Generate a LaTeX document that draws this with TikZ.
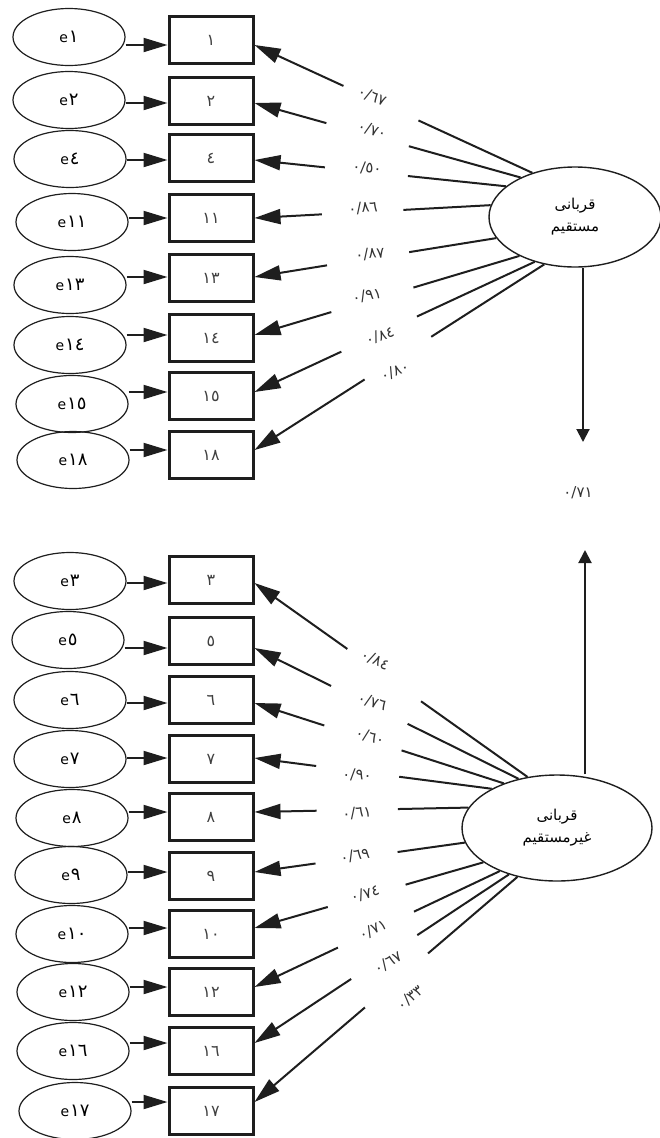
\documentclass[tikz,border=0pt]{standalone}
\usepackage{fontspec}
\setmainfont{DejaVu Sans}
\newfontfamily\ar[Script=Arabic]{DejaVu Sans}
\TeXXeTstate=1
\usetikzlibrary{arrows.meta,calc,shapes.geometric}
\definecolor{ink}{HTML}{1E1E1E}
\tikzset{
  errnode/.style={ellipse, draw=ink, line width=1.2pt, minimum width=112pt, minimum height=57pt, inner sep=0pt, font=\ar\fontsize{14}{16}\selectfont},
  obsnode/.style={rectangle, draw=ink, line width=3pt, minimum width=84pt, minimum height=47pt, inner sep=0pt, font=\ar\fontsize{16}{18}\selectfont, text=black!75},
  latnode/.style={ellipse, draw=ink, line width=1.4pt, inner sep=0pt, font=\ar\fontsize{15}{22}\selectfont, align=center},
  earr/.style={draw=ink, line width=2pt, -{Triangle[length=24pt,width=14pt]}},
  larr/.style={draw=ink, line width=2pt, -{Triangle[length=26pt,width=15pt]}},
  lseg/.style={draw=ink, line width=2pt},
  lbl/.style={font=\ar\fontsize{15}{17}\selectfont, text=black!80, inner sep=1pt},
  varr/.style={draw=ink, line width=2pt, -{Triangle[length=13pt,width=13pt]}},
}
\newcommand{\elab}[1]{e\kern1pt{\fontsize{18}{18}\selectfont #1}}
\begin{document}
\begin{tikzpicture}[x=1pt,y=-1pt]
\useasboundingbox (0,0) rectangle (660,1138);
% latent variables
\node[latnode, minimum width=172pt, minimum height=100pt] (L1) at (575,217) {\beginR قربانی\endR\\\beginR مستقیم\endR};
\node[latnode, minimum width=190pt, minimum height=106pt] (L2) at (557,828) {\beginR قربانی\endR\\\beginR غیرمستقیم\endR};
% top group
\foreach \i/\y/\ex/\ey/\t/\ang/\dy/\lx/\ly/\rot/\v/\pa/\pb in {
  1/40/69/37/١/134/5/372/97/-22/٦٧/0.41/0.68,
  2/101/69/100/٢/144/2/372/130/-18/٧٠/0.42/0.73,
  3/158/70/159/٤/156/2/367/168/-5/٥٠/0.39/0.72,
  4/218/72/222/١١/172/0/363/208/5/٨٦/0.37/0.715,
  5/278/70/285/١٣/195/-1/370/254/5/٨٧/0.36/0.70,
  6/338/70/345/١٤/215/-3/367/296/10/٩١/0.40/0.71,
  7/396/72/404/١٥/228/-4/380/336/18/٨٤/0.42/0.69,
  8/455/73/460/١٨/237/-5/395/372/22/٨٠/0.39/0.62}
{
  \node[obsnode] (b\i) at (211,\y) {\t};
  \node[errnode] (e\i) at (\ex,\ey) {\elab{\t}};
  \coordinate (w\i) at ($(b\i.west)+(0,\dy)$);
  \coordinate (k\i) at ($(b\i.east)+(0,\dy)$);
  \draw[earr] (e\i.east |- w\i) -- (w\i);
  \coordinate (s\i) at (L1.\ang);
  \draw[lseg] (s\i) -- ($(s\i)!\pa!(k\i)$);
  \draw[larr] ($(s\i)!\pb!(k\i)$) -- (k\i);
  \node[lbl, rotate=\rot] (n\i) at (\lx,\ly) {٠/\v};
}
% bottom group
\foreach \i/\y/\ex/\ey/\t/\ang/\dy/\lx/\ly/\rot/\v/\pa/\pb in {
  11/580/70/581/٣/120/3/375/660/-25/٨٤/0.39/0.66,
  12/641/68/640/٥/128/7/372/702/-18/٧٦/0.42/0.71,
  13/700/70/700/٦/140/3/370/737/-15/٦٠/0.41/0.72,
  14/759/70/759/٧/149/-1/357/775/-3/٩٠/0.39/0.74,
  15/817/72/818/٨/167/-5/357/813/5/٦١/0.33/0.71,
  16/876/71/875/٩/189/-4/355/856/10/٦٩/0.32/0.71,
  17/934/72/934/١٠/205/-6/365/894/15/٧٤/0.34/0.68,
  18/992/73/992/١٢/217/-5/373/930/25/٧١/0.35/0.66,
  19/1051/73/1051/١٦/224/-8/388/963/30/٦٧/0.36/0.62,
  20/1111/75/1111/١٧/231/-9/410/998/40/٣٣/0.34/0.58}
{
  \node[obsnode] (b\i) at (211,\y) {\t};
  \node[errnode] (e\i) at (\ex,\ey) {\elab{\t}};
  \coordinate (w\i) at ($(b\i.west)+(0,\dy)$);
  \coordinate (k\i) at ($(b\i.east)+(0,\dy)$);
  \draw[earr] (e\i.east |- w\i) -- (w\i);
  \coordinate (s\i) at (L2.\ang);
  \draw[lseg] (s\i) -- ($(s\i)!\pa!(k\i)$);
  \draw[larr] ($(s\i)!\pb!(k\i)$) -- (k\i);
  \node[lbl, rotate=\rot] (n\i) at (\lx,\ly) {٠/\v};
}
% structural path
\coordinate (t1) at (583,442);
\coordinate (t2) at (585,550);
\draw[varr] (L1.south -| t1) -- (t1);
\draw[varr] (L2.north -| t2) -- (t2);
\node[lbl] (m) at (578,493) {٠/٧١};
\end{tikzpicture}
\end{document}
